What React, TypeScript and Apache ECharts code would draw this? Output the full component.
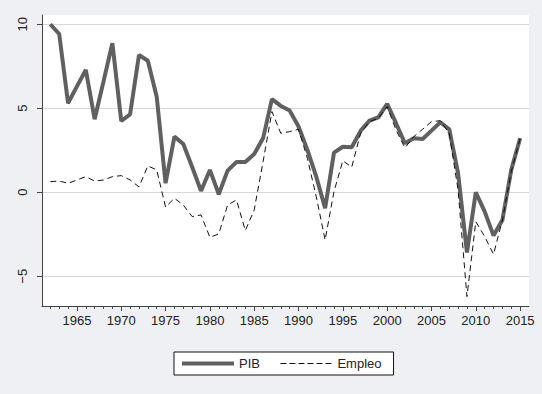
import React, { useEffect, useRef } from "react";
import * as echarts from "echarts";

const years: number[] = [];
for (let y = 1962; y <= 2015; y++) years.push(y);

const pib: number[] = [
  10.0, 9.42, 5.3, 6.3, 7.28, 4.35, 6.6, 8.87, 4.24, 4.64,
  8.17, 7.83, 5.69, 0.54, 3.31, 2.87, 1.5, 0.08, 1.33, -0.12,
  1.29, 1.8, 1.8, 2.28, 3.21, 5.54, 5.14, 4.86, 3.91, 2.52,
  0.93, -0.95, 2.36, 2.71, 2.68, 3.65, 4.26, 4.46, 5.26, 4.11,
  2.92, 3.21, 3.17, 3.67, 4.17, 3.75, 1.13, -3.59, 0.0, -1.15,
  -2.58, -1.65, 1.33, 3.21,
];

const empleo: number[] = [
  0.63, 0.67, 0.53, 0.73, 0.93, 0.67, 0.73, 0.93, 0.99, 0.73,
  0.32, 1.57, 1.33, -0.88, -0.36, -0.76, -1.45, -1.35, -2.68, -2.48,
  -0.76, -0.46, -2.28, -1.05, 1.82, 4.8, 3.51, 3.61, 3.75, 2.02,
  -0.26, -2.84, 0.04, 1.88, 1.49, 3.51, 4.2, 4.4, 5.1, 3.71,
  2.64, 3.31, 3.75, 4.2, 4.26, 3.51, 0.14, -6.21, -1.75, -2.64,
  -3.69, -1.65, 1.23, 3.2,
];

const xTickLabels: number[] = [1965, 1970, 1975, 1980, 1985, 1990, 1995, 2000, 2005, 2010, 2015];
const yTickLabels: number[] = [-5, 0, 5, 10];

const FONT = "'Liberation Sans', Arial, sans-serif";

export default function App() {
  const ref = useRef<HTMLDivElement>(null);
  useEffect(() => {
    if (!ref.current) return;
    const chart = echarts.init(ref.current, undefined, { renderer: "svg" });
    const axisColor = "#444";
    chart.setOption({
      animation: false,
      backgroundColor: "#eef0f3",
      grid: {
        left: 42,
        top: 15,
        right: 13,
        bottom: 88,
        show: true,
        backgroundColor: "#ffffff",
        borderWidth: 0,
      },
      legend: {
        left: 174,
        top: 352,
        orient: "horizontal",
        backgroundColor: "#ffffff",
        borderColor: "#111",
        borderWidth: 1,
        padding: [5, 12, 5, 6],
        itemWidth: 52,
        itemHeight: 12,
        itemGap: 20,
        itemStyle: { opacity: 0, borderWidth: 0 },
        textStyle: { fontFamily: FONT, fontSize: 13, color: "#222" },
        data: [
          { name: "PIB", lineStyle: { width: 4, color: "#606060" } },
          { name: "Empleo", lineStyle: { width: 1, color: "#111", type: [6, 3] } },
        ],
      },
      xAxis: [
        {
          type: "value",
          min: 1961.06,
          max: 2016,
          axisLine: { show: true, onZero: false, lineStyle: { color: axisColor, width: 1 } },
          axisTick: { show: true, length: 5, customValues: xTickLabels, lineStyle: { color: axisColor } },
          axisLabel: {
            customValues: xTickLabels,
            margin: 8,
            fontFamily: FONT,
            fontSize: 13,
            color: "#222",
            formatter: (v: number) => String(v),
          },
          splitLine: { show: false },
        },
        {
          type: "value",
          position: "bottom",
          min: 1961.06,
          max: 2016,
          axisLine: { show: false, onZero: false },
          axisTick: { show: true, length: 3, customValues: years, lineStyle: { color: axisColor } },
          axisLabel: { show: false },
          splitLine: { show: false },
        },
      ],
      yAxis: {
        type: "value",
        min: -6.77,
        max: 10.55,
        axisLine: { show: true, onZero: false, lineStyle: { color: axisColor, width: 1 } },
        axisTick: { show: true, length: 5, customValues: yTickLabels, lineStyle: { color: axisColor } },
        axisLabel: {
          customValues: yTickLabels,
          rotate: 90,
          margin: 13,
          fontFamily: FONT,
          fontSize: 13,
          color: "#222",
          formatter: (v: number) => String(v).replace("-", "\u2212"),
        },
        splitLine: { show: true, lineStyle: { color: "#d8d8d8", width: 1 } },
      },
      series: [
        {
          name: "Empleo",
          type: "line",
          xAxisIndex: 0,
          data: years.map((y, i) => [y, empleo[i]]),
          symbol: "none",
          lineStyle: { color: "#111", width: 1, type: [6, 4] },
          itemStyle: { color: "#111" },
          z: 3,
        },
        {
          name: "PIB",
          type: "line",
          xAxisIndex: 0,
          data: years.map((y, i) => [y, pib[i]]),
          symbol: "none",
          lineStyle: { color: "#606060", width: 4 },
          itemStyle: { color: "#606060" },
          z: 2,
        },
      ],
    });
    return () => chart.dispose();
  }, []);
  return (
    <div
      ref={ref}
      style={{ position: "fixed", left: 0, top: 0, width: 542, height: 394 }}
    />
  );
}
